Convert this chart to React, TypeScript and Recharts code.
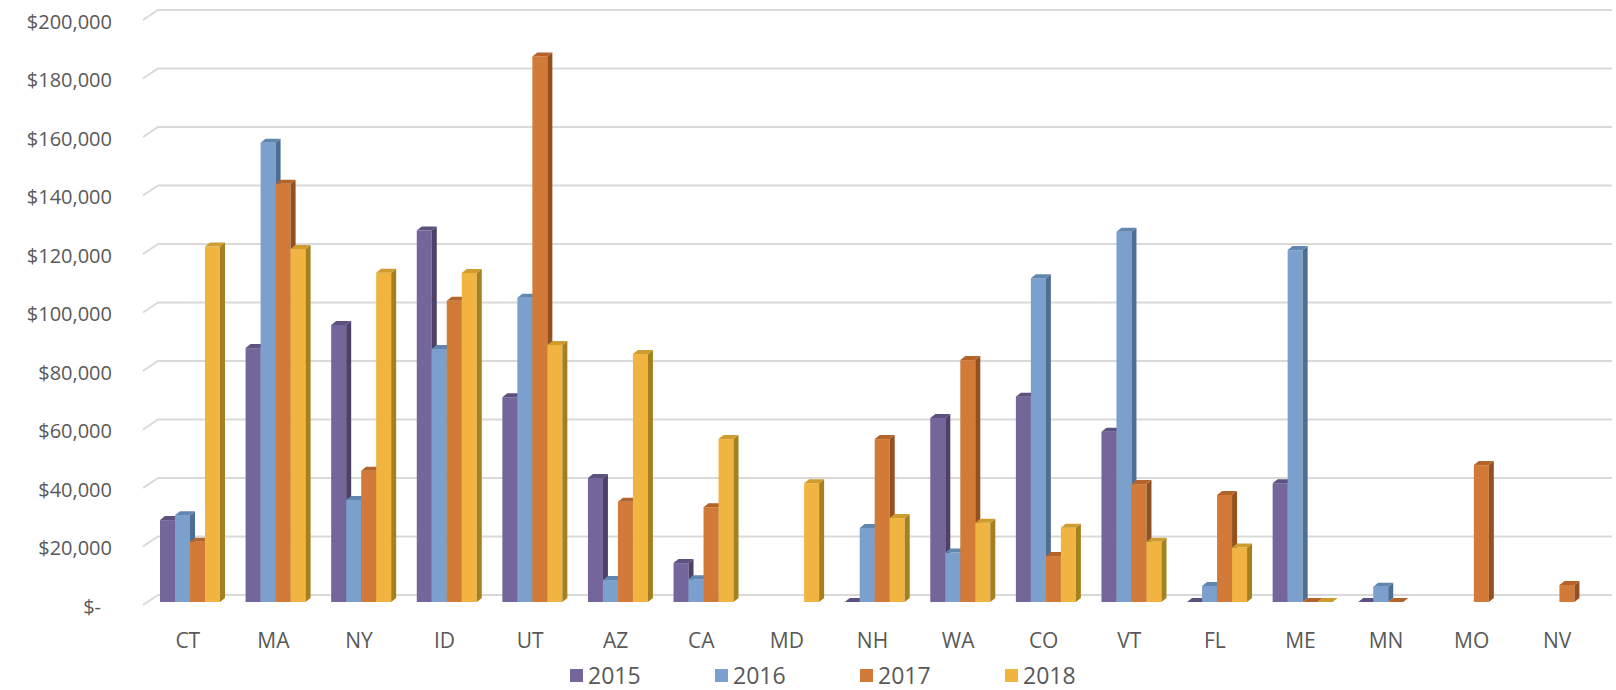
import { BarChart, Bar, XAxis, YAxis, CartesianGrid, Legend } from 'recharts';

const states = ['CT', 'MA', 'NY', 'ID', 'UT', 'AZ', 'CA', 'MD', 'NH', 'WA', 'CO', 'VT', 'FL', 'ME', 'MN', 'MO', 'NV'];

// null = no bar drawn, 0 = flat bar on the floor
const sales2015 = [28000, 86800, 94700, 127000, 70000, 42400, 13300, null, 0, 62900, 70200, 58200, 0, 40600, 0, null, null];
const sales2016 = [29700, 157000, 34900, 86500, 104000, 7500, 7800, null, 25300, 16900, 110700, 126600, 5500, 120300, 5200, null, null];
const sales2017 = [20600, 143000, 44900, 103000, 186500, 34300, 32400, null, 55700, 82700, 15700, 40300, 36600, 0, 0, 46800, 5800];
const sales2018 = [121500, 120700, 112600, 112500, 87900, 84800, 55700, 40600, 28700, 27100, 25400, 20600, 18600, 0, null, null, null];

const yTicks = [0, 20000, 40000, 60000, 80000, 100000, 120000, 140000, 160000, 180000, 200000];

const series = [
  { key: 'y2015', name: '2015', values: sales2015, front: '#74659a', side: '#4c4168', top: '#5d5180' },
  { key: 'y2016', name: '2016', values: sales2016, front: '#7ba0cd', side: '#4f6e94', top: '#6186b0' },
  { key: 'y2017', name: '2017', values: sales2017, front: '#d27b38', side: '#94511f', top: '#b2642b' },
  { key: 'y2018', name: '2018', values: sales2018, front: '#f2b440', side: '#a5801e', top: '#cf9c2f' },
];

const data = states.map((state, i) => {
  const row: Record<string, string | number | null> = { state };
  series.forEach((s) => {
    row[s.key] = s.values[i];
  });
  return row;
});

const TEXT = '#595959';
const FONT = '"Open Sans", sans-serif';
const DX = 5;
const DY = 4;

function Column3D(props: any) {
  const { x, y, width, height, payload, s } = props;
  if (payload == null || payload[s.key] == null) return <g />;
  const w = width;
  const h = Math.max(0, height);
  const top = `${x},${y} ${x + DX},${y - DY} ${x + w + DX},${y - DY} ${x + w},${y}`;
  const side = `${x + w},${y} ${x + w + DX},${y - DY} ${x + w + DX},${y + h - DY} ${x + w},${y + h}`;
  return (
    <g>
      <rect x={x} y={y} width={w} height={h} fill={s.front} />
      <polygon points={side} fill={s.side} />
      <polygon points={top} fill={s.top} />
    </g>
  );
}

function gridLine(p: any) {
  const y = p.y1;
  return (
    <path
      key={`g-${p.index}`}
      d={`M143,${y + 3} L158,${y - 7} L1612,${y - 7}`}
      stroke="#d9d9d9"
      strokeWidth={2}
      fill="none"
    />
  );
}

function XTick({ x, payload }: any) {
  return (
    <text x={x - 2} y={640} textAnchor="middle" dominantBaseline="central" fill={TEXT} fontSize={21} fontFamily={FONT}>
      {payload.value}
    </text>
  );
}

function YTick({ y, payload }: any) {
  const v = payload.value as number;
  const label = v === 0 ? '$-' : `$${v.toLocaleString('en-US')}`;
  return (
    <text x={v === 0 ? 101 : 112} y={y + 4} textAnchor="end" dominantBaseline="central" fill={TEXT} fontSize={20} fontFamily={FONT}>
      {label}
    </text>
  );
}

function LegendRow({ payload }: any) {
  return (
    <div style={{ display: 'flex', paddingLeft: 570, fontFamily: FONT, fontSize: 23, lineHeight: '26px', height: 26, color: TEXT }}>
      {(payload || []).map((e: any) => (
        <div key={e.value} style={{ width: 145, display: 'flex', alignItems: 'center' }}>
          <span style={{ width: 13, height: 13, background: e.color, marginRight: 5, display: 'inline-block' }} />
          <span>{e.value}</span>
        </div>
      ))}
    </div>
  );
}

export default function App() {
  return (
    <div style={{ position: 'absolute', left: 0, top: 0, background: '#fff' }}>
      <BarChart
        width={1616}
        height={690}
        data={data}
        margin={{ top: 17, right: 14, left: 0, bottom: 48 }}
        barSize={15}
        barGap={0}
      >
        <CartesianGrid vertical={false} horizontal={gridLine} />
        <XAxis dataKey="state" axisLine={false} tickLine={false} tickSize={0} height={40} interval={0} tick={<XTick />} />
        <YAxis
          width={147}
          domain={[0, 200000]}
          ticks={yTicks}
          axisLine={false}
          tickLine={false}
          interval={0}
          tick={<YTick />}
        />
        <Legend
          layout="vertical"
          align="center"
          verticalAlign="bottom"
          wrapperStyle={{ left: 0, top: 662, width: 1616, height: 0, overflow: 'visible' }}
          content={<LegendRow />}
        />
        {series.map((s) => (
          <Bar
            key={s.key}
            dataKey={s.key}
            name={s.name}
            fill={s.front}
            isAnimationActive={false}
            shape={(p: any) => <Column3D {...p} s={s} />}
          />
        ))}
      </BarChart>
    </div>
  );
}
